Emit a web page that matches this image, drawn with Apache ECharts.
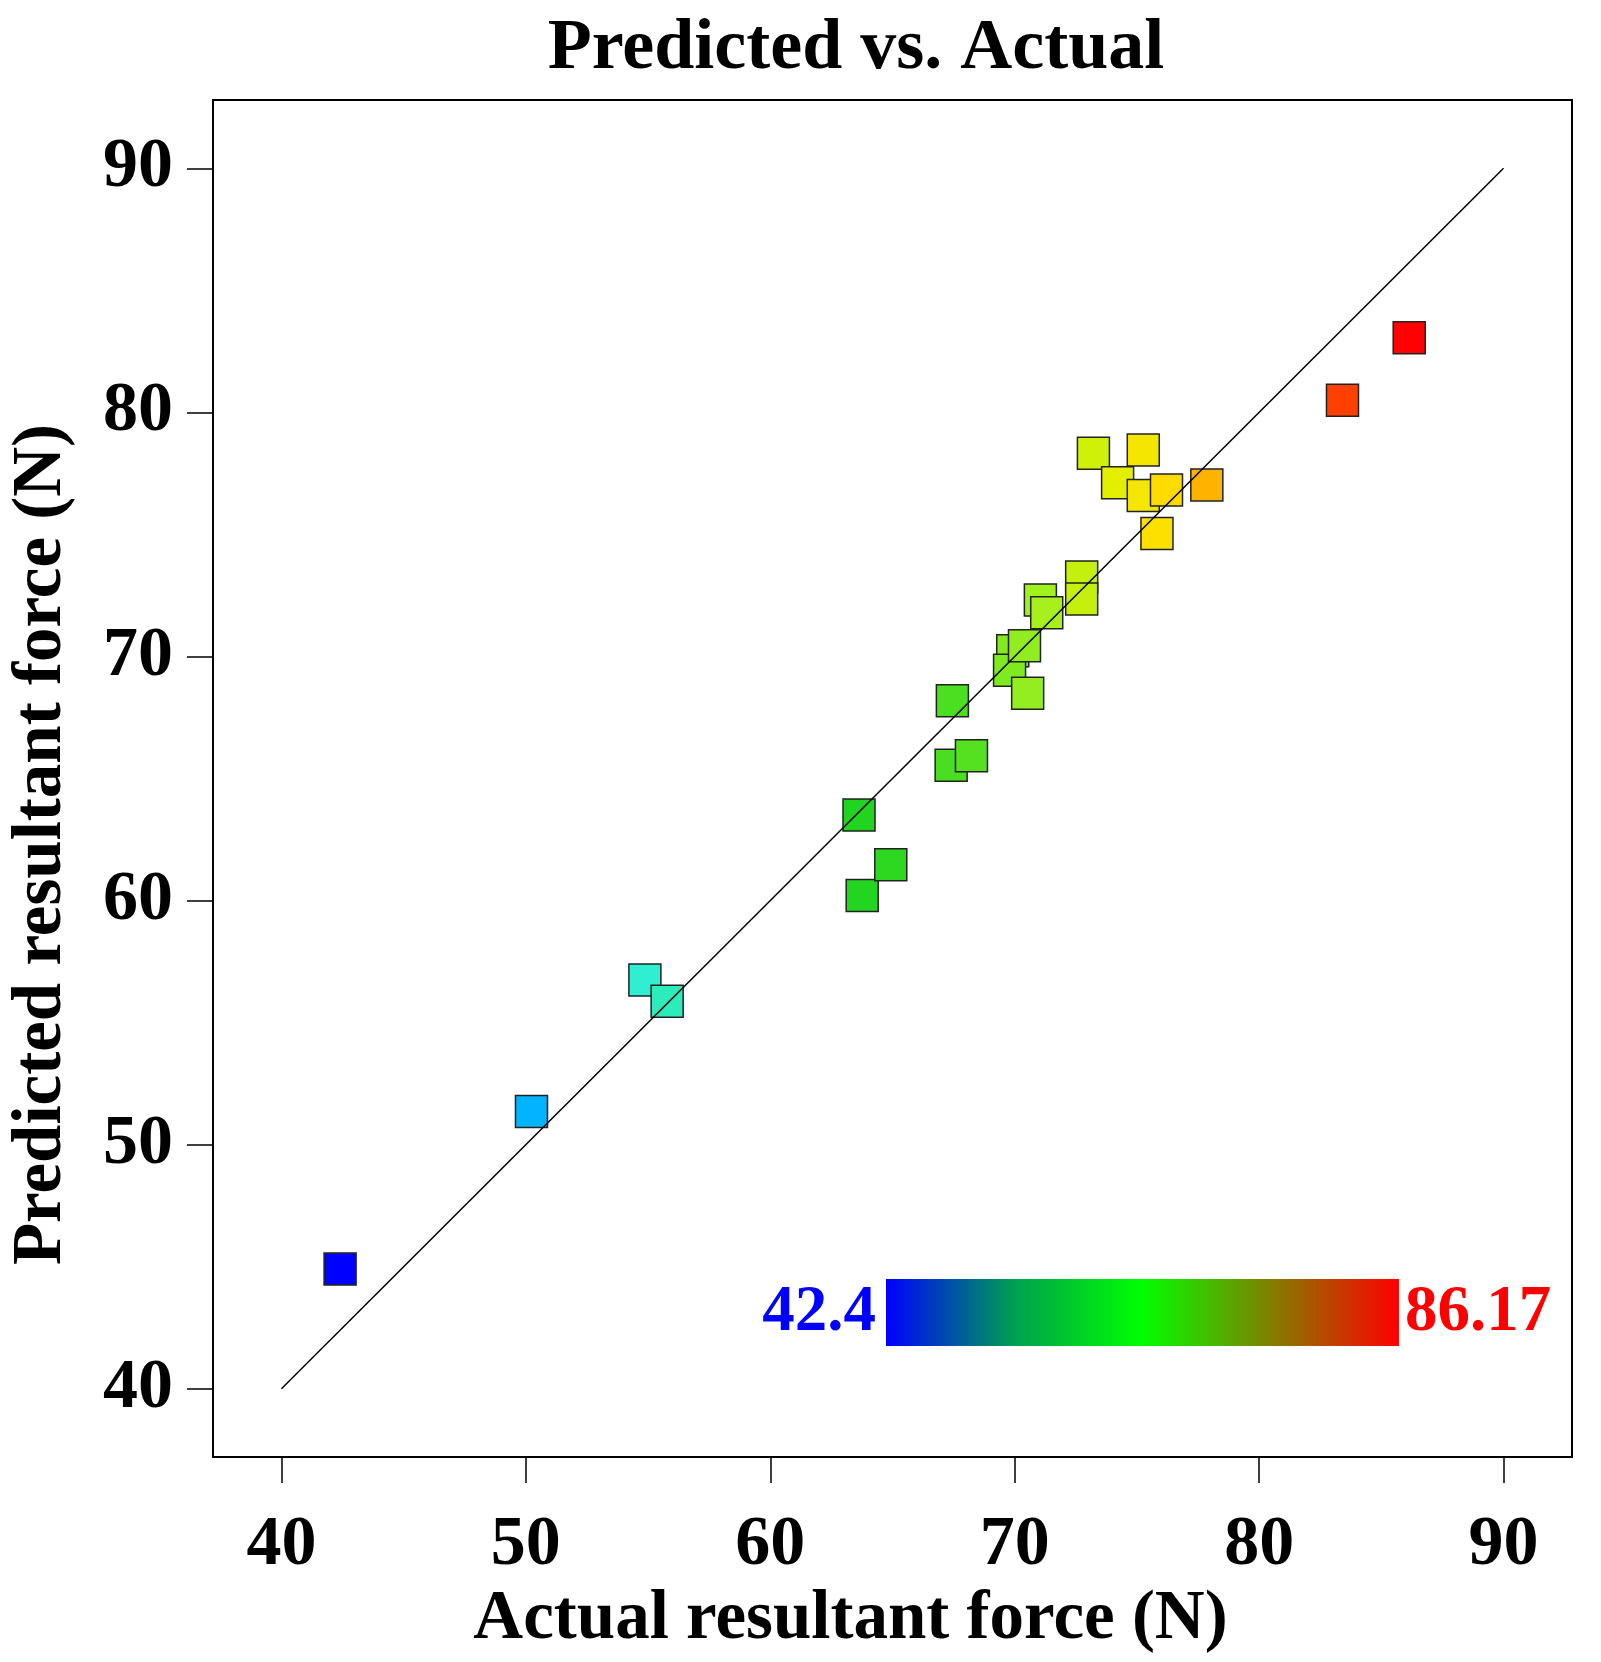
<!DOCTYPE html>
<html><head><meta charset="utf-8">
<script src="https://cdn.jsdelivr.net/npm/echarts@6/dist/echarts.min.js"></script>
<style>html,body{margin:0;padding:0;background:#fff}#c{width:1601px;height:1662px}</style>
</head><body><div id="c"></div>
<script>
const actual = [42.4,50.23,54.87,55.78,63.63,63.76,64.93,67.45,67.4,68.23,69.92,69.79,70.4,70.53,71.05,71.31,72.74,72.74,73.22,74.21,75.26,75.26,76.21,75.82,77.86,83.41,86.14];
const predicted = [44.9,51.36,56.74,55.87,63.5,60.21,61.47,68.19,65.54,65.93,70.23,69.44,70.44,68.49,72.31,71.79,73.26,72.35,78.33,77.12,78.46,76.6,76.82,75.04,77.03,80.5,83.06];
const ticks = [40,50,60,70,80,90];
const colorMin = 42.4, colorMax = 86.17;
const stopValues = [42.4, 50, 55, 62, 68, 71, 74, 76, 78, 83.4, 86.17];
const stopColors = ['#0000ff','#00b0ff','#30f0d0','#10d020','#50e020','#a0f020','#e0f000','#ffe000','#ffb000','#ff4000','#ff0000'];
const font = 'Liberation Serif';
function hex(c){return [1,3,5].map(i=>parseInt(c.substr(i,2),16));}
function colorFor(v){
  for(let i=0;i<stopValues.length-1;i++){
    if(v<=stopValues[i+1]){
      const t=Math.max(0,(v-stopValues[i])/(stopValues[i+1]-stopValues[i]));
      const a=hex(stopColors[i]), b=hex(stopColors[i+1]);
      return 'rgb('+a.map((x,k)=>Math.round(x+(b[k]-x)*t)).join(',')+')';
    }
  }
  return stopColors[stopColors.length-1];
}
const chart = echarts.init(document.getElementById('c'));
const axisCommon = {
  min: 37.2, max: 92.8,
  axisLine: {onZero:false, lineStyle:{color:'#000', width:2}},
  axisTick: {customValues: ticks, length: 26, lineStyle:{color:'#000', width:1.5}},
  axisLabel: {customValues: ticks, color:'#000', fontFamily:font, fontWeight:'bold', fontSize:70},
  splitLine: {show:false},
  nameLocation: 'middle'
};
const nameStyle = {color:'#000', fontFamily:font, fontWeight:'bold', fontSize:69};
chart.setOption({
  animation:false,
  title:{text:'Predicted vs. Actual', left:851, textAlign:'center', top:8, textStyle:{fontFamily:font, fontWeight:'bold', fontSize:72, color:'#000'}},
  grid:{left:197, top:100, width:1375, height:1357, show:true, borderColor:'#000', borderWidth:2},
  xAxis: Object.assign({}, axisCommon, {type:'value', name:'Actual resultant force (N)', nameGap:122,
    nameTextStyle:Object.assign({}, nameStyle, {padding:[0,84,0,0]}),
    axisLabel:Object.assign({}, axisCommon.axisLabel, {margin:54})}),
  yAxis: Object.assign({}, axisCommon, {type:'value', name:'Predicted resultant force (N)', nameGap:136,
    nameTextStyle:Object.assign({}, nameStyle, {padding:[0,132,0,0]}),
    axisLabel:Object.assign({}, axisCommon.axisLabel, {margin:40})}),
  series:[
    {type:'line', data:[[40,40],[90,90]], symbol:'none', lineStyle:{color:'#000', width:1.5}},
    {type:'scatter', symbol:'rect', symbolSize:32, data:actual.map((a,i)=>[a,predicted[i]]),
      itemStyle:{opacity:1, borderColor:'#222', borderWidth:1.5, color:p=>colorFor(p.value[0])}}
  ],
  graphic:[
    {type:'rect', shape:{x:886, y:1279, width:513, height:67},
      style:{fill:new echarts.graphic.LinearGradient(0,0,1,0,[
        {offset:0,color:'#0000ff'},{offset:0.25,color:'#00a050'},{offset:0.5,color:'#00ff00'},
        {offset:0.75,color:'#808000'},{offset:1,color:'#ff0000'}])}},
    {type:'text', x:876, y:1313, style:{text:String(colorMin), fill:'#0000ff', font:'bold 65px "Liberation Serif"', textAlign:'right', textVerticalAlign:'middle'}},
    {type:'text', x:1405, y:1313, style:{text:String(colorMax), fill:'#ff0000', font:'bold 65px "Liberation Serif"', textAlign:'left', textVerticalAlign:'middle'}}
  ]
});
</script></body></html>
